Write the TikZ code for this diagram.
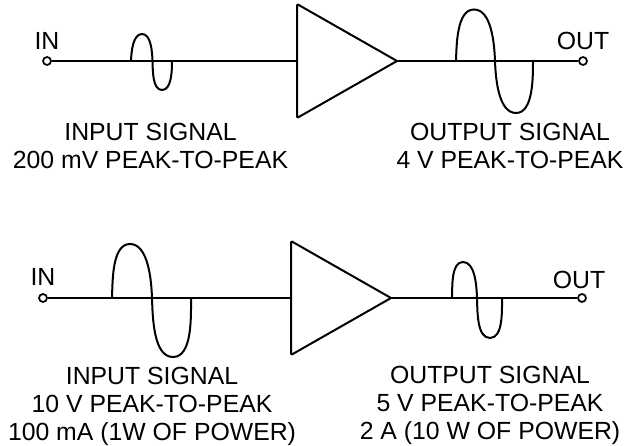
\documentclass[tikz,border=0pt]{standalone}
\usepackage{fontspec}
\setmainfont{Liberation Sans}
\usetikzlibrary{shapes.geometric}

\begin{document}
\begin{tikzpicture}[
        x=0.75pt, y=-0.75pt,
        amp/.style      = {draw, shape=isosceles triangle, isosceles triangle stretches, shape border rotate=0, anchor=lower side, minimum width=85.5pt, minimum height=75pt, inner sep=0pt, line width=1.5pt, rounded corners=1pt},
        terminal/.style = {draw, circle, minimum size=6pt, inner sep=0pt, line width=1.3pt},
        wire/.style     = {line width=1.7pt},
        wave/.style     = {line width=1.5pt, looseness=0.8},
        label/.style    = {font=\fontsize{18.6}{21}\selectfont, align=center, inner sep=0pt},
    ]
        \useasboundingbox (0,0) rectangle (625,446);

        % top stage
        \node[amp] (amptop) at (296,61) {};
        \node[terminal] (intop) at (47,61) {};
        \node[terminal] (outtop) at (583,61) {};
        \draw[wire] (intop) -- (amptop.lower side);
        \draw[wire, shorten <=-3pt] (amptop.apex) -- (outtop);

        \node[label] (intoplabel) at (47,41) {IN};
        \node[label] (outtoplabel) at (583,41) {OUT};
        \node[label] (sigintop) at (150.5,145.5) {INPUT SIGNAL\\200 mV PEAK-TO-PEAK};
        \node[label] (sigouttop) at (510,146) {OUTPUT SIGNAL\\4 V PEAK-TO-PEAK};

        \draw[wave] (131,61) to[out=88,in=180] (142,34) to[out=0,in=92] (152.5,61)
            to[out=-88,in=180] (162,90) to[out=0,in=-90] (172,61);
        \draw[wave] (456,61) to[out=88,in=180] (474,9.5) to[out=0,in=92] (495,61)
            to[out=-88,in=180] (516,113) to[out=0,in=-90] (533,61);

        % bottom stage
        \node[amp] (ampbot) at (290,298) {};
        \node[terminal] (inbot) at (43,298) {};
        \node[terminal] (outbot) at (582,298) {};
        \draw[wire] (inbot) -- (ampbot.lower side);
        \draw[wire, shorten <=-3pt] (ampbot.apex) -- (outbot);

        \node[label] (inbotlabel) at (43,277) {IN};
        \node[label] (outbotlabel) at (579,280) {OUT};
        \node[label] (siginbot) at (152,406) {INPUT SIGNAL\\10 V PEAK-TO-PEAK\\100 mA (1W OF POWER)};
        \node[label] (sigoutbot) at (490,405) {OUTPUT SIGNAL\\5 V PEAK-TO-PEAK\\2 A (10 W OF POWER)};

        \draw[wave] (112,298) to[out=88,in=180] (130,244) to[out=0,in=92] (152,298)
            to[out=-88,in=180] (173,357) to[out=0,in=-90] (191,298);
        \draw[wave] (452,298) to[out=88,in=180] (463,262) to[out=0,in=92] (477,298)
            to[out=-88,in=180] (490,338) to[out=0,in=-90] (502,298);
    \end{tikzpicture}
\end{document}
